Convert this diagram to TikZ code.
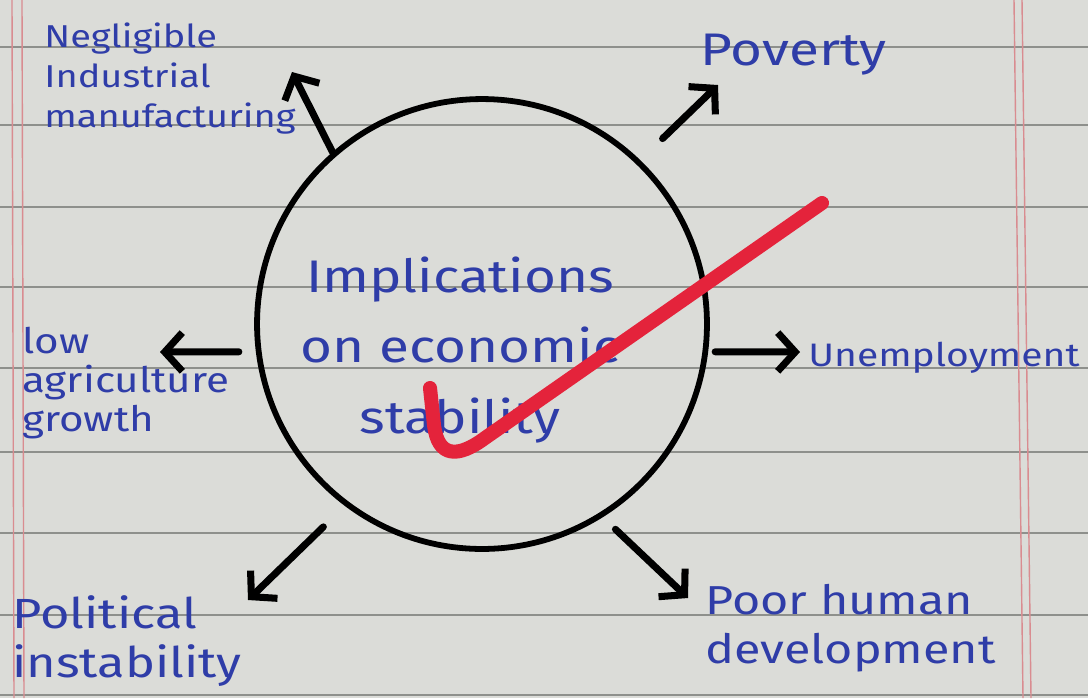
\documentclass[tikz,border=0pt]{standalone}
\usepackage{fontspec}
\usepackage{tikz}
\usetikzlibrary{arrows.meta, positioning}
\newfontfamily\handfont{Fira Sans}[FakeStretch=1.2]
\definecolor{ink}{HTML}{2F3DA8}
\definecolor{paper}{HTML}{DBDCD8}
\definecolor{ruling}{HTML}{8E908C}
\definecolor{marginred}{HTML}{D98C90}
\definecolor{checkred}{HTML}{E4233B}

\begin{document}
\begin{tikzpicture}[x=0.02cm, y=-0.02cm,
    hub/.style={draw, circle, minimum size=9cm, inner sep=0pt, line width=3.3pt},
    title/.style={font=\handfont\fontsize{26}{40}\selectfont, text=ink, align=center},
    note/.style={font=\handfont\fontsize{20}{24}\selectfont, text=ink, align=left, inner sep=0pt},
    spoke/.style={-{Straight Barb[length=10pt, width=22pt]}, line width=4pt, line cap=round}
  ]
  % lined paper
  \fill[paper] (0,0) rectangle (1088,698);
  \useasboundingbox (0,0) rectangle (1088,698);
  \foreach \y in {47,125,207,287,368,452,533,615,695}
    \draw[ruling, line width=1pt] (0,\y) -- (1088,\y);
  \draw[marginred, line width=0.8pt] (12,0) -- (14,698) (22,0) -- (24,698);
  \draw[marginred, line width=0.8pt] (1014,0) -- (1023,698) (1022,0) -- (1031,698);

  % centre
  \node[hub] (core) at (482,324) {};
  \node[title] (theme) at (460,350) {Implications\\on economic\\stability};

  % outcomes
  \node[note, anchor=north west, font=\handfont\fontsize{18}{23}\selectfont] (neglig) at (44,22) {Negligible\\Industrial\\manufacturing};
  \node[note, anchor=base west, font=\handfont\fontsize{26}{30}\selectfont] (poverty) at (700,65) {Poverty};
  \node[note, anchor=north west, font=\handfont\fontsize{20}{22}\selectfont] (agri) at (22,327) {low\\agriculture\\growth};
  \node[note, anchor=base west, font=\handfont\fontsize{18.5}{22}\selectfont] (unemp) at (808,366) {Unemployment};
  \node[note, anchor=north west, font=\handfont\fontsize{24}{28}\selectfont] (polit) at (12,595) {Political\\instability};
  \node[note, anchor=north west, font=\handfont\fontsize{23}{28}\selectfont] (human) at (705,584) {Poor human\\development};

  % arrow tips
  \coordinate (tipNeg) at (292,72);
  \coordinate (tipPov) at (718,85);
  \coordinate (tipAgri) at (160,352);
  \coordinate (tipUnemp) at (800,352);
  \coordinate (tipPolit) at (248,600);
  \coordinate (tipHuman) at (688,598);

  \draw[spoke] (core.131) -- (tipNeg);
  \draw[spoke, shorten <=0.62cm] (core.46) -- (tipPov);
  \draw[spoke, shorten <=0.34cm] (core.187) -- (tipAgri);
  \draw[spoke, shorten <=0.14cm] (core.353) -- (tipUnemp);
  \draw[spoke, shorten <=0.6cm] (core.233) -- (tipPolit);
  \draw[spoke, shorten <=0.35cm] (core.302) -- (tipHuman);

  % teacher's tick
  \draw[checkred, line width=8pt, line cap=round, line join=round]
    (430,388) -- (434,425) .. controls (438,458) and (458,458) .. (485,438) -- (822,203);
\end{tikzpicture}
\end{document}
